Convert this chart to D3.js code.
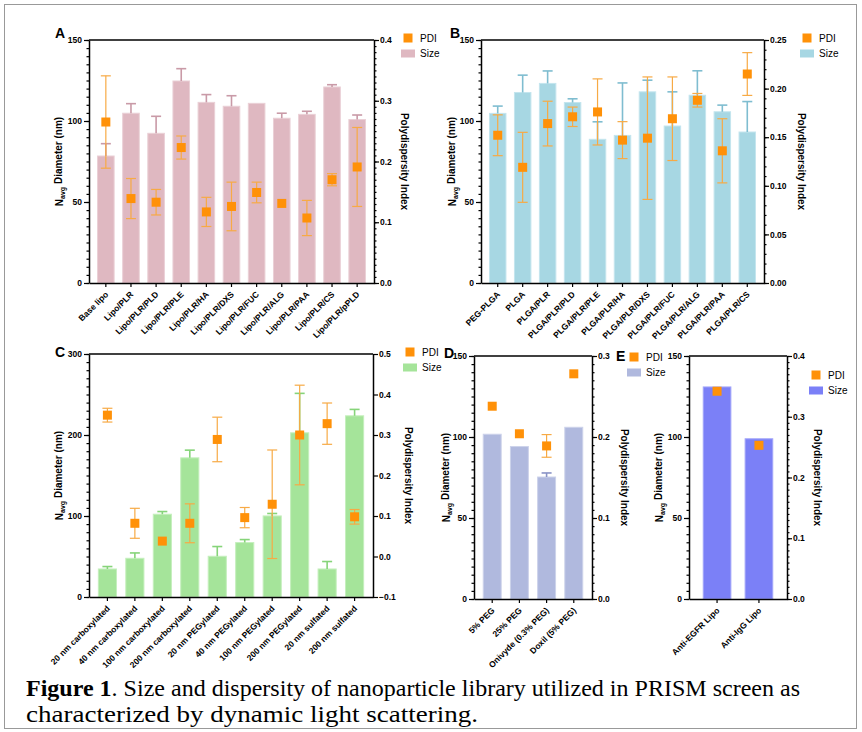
<!DOCTYPE html>
<meta charset="utf-8">
<head>
<script src="https://d3js.org/d3.v7.min.js"></script>
<style>
  body { margin: 0; background: #fff; }
  svg { display: block; font-family: "Liberation Sans", Arial, sans-serif; }
  .tick text { font-size: 8.5px; font-weight: bold; fill: #000; }
  .tick line { stroke: #000; stroke-width: 1.2; }
  .domain { stroke: #000; stroke-width: 1.5; }
  .ttl { font-size: 10px; font-weight: bold; }
  .xl { font-size: 9.5px; font-weight: bold; }
  .leg { font-size: 10px; }
  .letter { font-size: 14px; font-weight: bold; }
</style>
</head>
<body>
<svg width="862" height="732"></svg>
<script>

// ---- panel A : lipo
var catsA = ["Base lipo", "Lipo/PLR", "Lipo/PLR/PLD", "Lipo/PLR/PLE", "Lipo/PLR/HA", "Lipo/PLR/DXS",
             "Lipo/PLR/FUC", "Lipo/PLR/ALG", "Lipo/PLR/PAA", "Lipo/PLR/CS", "Lipo/PLR/pPLD"];
var sizeA    = [78.4, 104.8, 92.4, 124.7, 111.5, 109.1, 110.9, 101.7, 104.1, 121.0, 100.9];
var sizeErrA = [7.6, 5.9, 10.5, 7.6, 4.8, 6.5, 0, 3.1, 1.9, 1.4, 2.8];
var pdiA     = [0.265, 0.139, 0.133, 0.223, 0.117, 0.126, 0.149, 0.131, 0.107, 0.170, 0.191];
var pdiErrA  = [0.076, 0.033, 0.021, 0.019, 0.024, 0.040, 0.017, 0, 0.029, 0.010, 0.065];

// ---- panel B : PLGA
var catsB = ["PEG-PLGA", "PLGA", "PLGA/PLR", "PLGA/PLR/PLD", "PLGA/PLR/PLE", "PLGA/PLR/HA",
             "PLGA/PLR/DXS", "PLGA/PLR/FUC", "PLGA/PLR/ALG", "PLGA/PLR/PAA", "PLGA/PLR/CS"];
var sizeB    = [104.7, 117.6, 123.2, 111.4, 88.7, 91.1, 118.0, 96.9, 115.9, 105.7, 93.2];
var sizeErrB = [4.5, 10.7, 7.7, 2.3, 10.8, 32.4, 7.2, 21.1, 15.1, 4.1, 18.8];
var pdiB     = [0.152, 0.119, 0.164, 0.171, 0.176, 0.147, 0.149, 0.169, 0.188, 0.136, 0.215];
var pdiErrB  = [0.021, 0.036, 0.023, 0.010, 0.034, 0.019, 0.063, 0.043, 0.007, 0.033, 0.022];

// ---- panel C : polystyrene
var catsC = ["20 nm carboxylated", "40 nm carboxylated", "100 nm carboxylated", "200 nm carboxylated",
             "20 nm PEGylated", "40 nm PEGylated", "100 nm PEGylated", "200 nm PEGylated",
             "20 nm sulfated", "200 nm sulfated"];
var sizeC    = [34.6, 47.8, 102.2, 171.8, 50.3, 67.2, 100.1, 202.7, 34.6, 223.7];
var sizeErrC = [3.0, 6.6, 3.3, 9.5, 12.0, 3.7, 3.0, 48.7, 9.2, 7.9];
var pdiC     = [0.349, 0.082, 0.038, 0.082, 0.289, 0.096, 0.129, 0.300, 0.328, 0.098];
var pdiErrC  = [0.017, 0.037, 0, 0.048, 0.055, 0.025, 0.134, 0.123, 0.051, 0.018];

// ---- panel D : PEG liposomes
var catsD = ["5% PEG", "25% PEG", "Onivyde (0.3% PEG)", "Doxil (5% PEG)"];
var sizeD    = [101.7, 94.1, 75.3, 106.0];
var sizeErrD = [0, 0, 2.5, 0];
var pdiD     = [0.238, 0.204, 0.189, 0.278];
var pdiErrD  = [0, 0, 0.014, 0];

// ---- panel E : antibody liposomes
var catsE = ["Anti-EGFR Lipo", "Anti-IgG Lipo"];
var sizeE    = [130.9, 98.9];
var sizeErrE = [0, 0];
var pdiE     = [0.342, 0.253];
var pdiErrE  = [0, 0];

var orange = "#ff9108", orangeErr = "#f7aa45";

var svg = d3.select("svg");

svg.append("rect")
    .attr("x", 4.5).attr("y", 4.5).attr("width", 852).attr("height", 724)
    .attr("fill", "none").attr("stroke", "#999").attr("stroke-width", 1);

function panel(p) {
    var x = d3.scaleBand().domain(p.cats).range([p.x0, p.x1]).padding(0.34);
    var y = d3.scaleLinear().domain(p.sDom).range([p.y1, p.y0]);
    var y2 = d3.scaleLinear().domain(p.pDom).range([p.y1, p.y0]);
    var g = svg.append("g");
    var rows = p.cats.map(function(c, i) {
        return {c: c, s: p.size[i], se: p.sizeErr[i], p: p.pdi[i], pe: p.pdiErr[i]};
    });

    // bars
    g.selectAll(".bar").data(rows).enter().append("rect")
        .attr("x", function(d) { return x(d.c); })
        .attr("y", function(d) { return y(d.s); })
        .attr("width", x.bandwidth())
        .attr("height", function(d) { return p.y1 - y(d.s); })
        .attr("fill", p.fill).attr("stroke", p.edge).attr("stroke-width", 1);

    // size error (up only)
    var se = g.selectAll(".se").data(rows.filter(function(d) { return d.se > 0; })).enter().append("g")
        .attr("stroke", p.err).attr("stroke-width", 1.6);
    se.append("line")
        .attr("x1", function(d) { return x(d.c) + x.bandwidth() / 2; })
        .attr("x2", function(d) { return x(d.c) + x.bandwidth() / 2; })
        .attr("y1", function(d) { return y(d.s); })
        .attr("y2", function(d) { return y(d.s + d.se); });
    se.append("line")
        .attr("x1", function(d) { return x(d.c) + x.bandwidth() / 2 - 5; })
        .attr("x2", function(d) { return x(d.c) + x.bandwidth() / 2 + 5; })
        .attr("y1", function(d) { return y(d.s + d.se); })
        .attr("y2", function(d) { return y(d.s + d.se); });

    // pdi error
    var pe = g.selectAll(".pe").data(rows.filter(function(d) { return d.pe > 0; })).enter().append("g")
        .attr("stroke", orangeErr).attr("stroke-width", 1.2);
    pe.append("line")
        .attr("x1", function(d) { return x(d.c) + x.bandwidth() / 2; })
        .attr("x2", function(d) { return x(d.c) + x.bandwidth() / 2; })
        .attr("y1", function(d) { return y2(d.p - d.pe); })
        .attr("y2", function(d) { return y2(d.p + d.pe); });
    [-1, 1].forEach(function(sg) {
        pe.append("line")
            .attr("x1", function(d) { return x(d.c) + x.bandwidth() / 2 - 5; })
            .attr("x2", function(d) { return x(d.c) + x.bandwidth() / 2 + 5; })
            .attr("y1", function(d) { return y2(d.p + sg * d.pe); })
            .attr("y2", function(d) { return y2(d.p + sg * d.pe); });
    });

    // pdi squares
    g.selectAll(".pdi").data(rows).enter().append("rect")
        .attr("x", function(d) { return x(d.c) + x.bandwidth() / 2 - 4.5; })
        .attr("y", function(d) { return y2(d.p) - 4.5; })
        .attr("width", 9).attr("height", 9)
        .attr("fill", orange);

    // axes
    g.append("g").attr("transform", "translate(" + p.x0 + ",0)")
        .call(d3.axisLeft(y).tickValues(d3.range(p.sDom[0], p.sDom[1] + 0.001, p.sMinor))
            .tickSize(2.5).tickSizeOuter(0).tickFormat(""))
        .select(".domain").remove();
    g.append("g").attr("transform", "translate(" + p.x0 + ",0)")
        .call(d3.axisLeft(y).tickValues(p.sTicks).tickSize(5).tickSizeOuter(0).tickPadding(2));

    if (p.pMinor) {
        g.append("g").attr("transform", "translate(" + p.x1 + ",0)")
            .call(d3.axisRight(y2).tickValues(d3.range(0, Math.round((p.pDom[1] - p.pDom[0]) / p.pMinor) + 1)
                    .map(function(i) { return p.pDom[0] + i * p.pMinor; }))
                .tickSize(2.5).tickSizeOuter(0).tickFormat(""))
            .select(".domain").remove();
    }
    g.append("g").attr("transform", "translate(" + p.x1 + ",0)")
        .call(d3.axisRight(y2).tickValues(p.pTicks).tickSize(5).tickSizeOuter(0).tickPadding(1)
            .tickFormat(d3.format(p.pFmt)));

    var xa = g.append("g").attr("transform", "translate(0," + p.y1 + ")")
        .call(d3.axisBottom(x).tickSize(4).tickSizeOuter(0));
    xa.selectAll("text")
        .attr("class", "xl")
        .attr("x", 0).attr("y", 0).attr("dy", 0)
        .style("text-anchor", "end")
        .attr("transform", "translate(3,12) rotate(-45)");

    // top frame
    g.append("line").attr("x1", p.x0).attr("x2", p.x1).attr("y1", p.y0).attr("y2", p.y0)
        .attr("stroke", "#000").attr("stroke-width", 1.5);

    // titles
    var cy = (p.y0 + p.y1) / 2;
    var lt = g.append("text").attr("class", "ttl")
        .attr("transform", "translate(" + p.lx + "," + cy + ") rotate(-90)")
        .attr("text-anchor", "middle");
    lt.append("tspan").text("N");
    lt.append("tspan").attr("dy", "0.35em").attr("font-size", "7px").text("avg");
    lt.append("tspan").attr("dy", "-0.35em").text(" Diameter (nm)");

    g.append("text").attr("class", "ttl")
        .attr("transform", "translate(" + p.rx + "," + cy + ") rotate(90)")
        .attr("text-anchor", "middle")
        .text("Polydispersity Index");

    g.append("text").attr("class", "letter").attr("x", p.lab[0]).attr("y", p.lab[1]).text(p.letter);

    // legend
    g.append("rect").attr("x", p.leg[0] + 2.5).attr("y", p.leg[1] - 4.5).attr("width", 9).attr("height", 9)
        .attr("fill", orange);
    g.append("text").attr("class", "leg").attr("x", p.leg[0] + 19).attr("y", p.leg[1] + 3.5).text("PDI");
    g.append("rect").attr("x", p.leg[0]).attr("y", p.leg[1] + 11.5).attr("width", 14).attr("height", 8)
        .attr("fill", p.fill);
    g.append("text").attr("class", "leg").attr("x", p.leg[0] + 19).attr("y", p.leg[1] + 19).text("Size");
}

panel({cats: catsA, size: sizeA, sizeErr: sizeErrA, pdi: pdiA, pdiErr: pdiErrA,
       x0: 89, x1: 374, y0: 40, y1: 283,
       sDom: [0, 150], sTicks: [0, 50, 100, 150], sMinor: 5,
       pDom: [0, 0.4], pTicks: [0, 0.1, 0.2, 0.3, 0.4], pMinor: 0.01, pFmt: ".1f",
       fill: "#dfb8c1", edge: "#ead0d6", err: "#c99aa7",
       lx: 63, rx: 401, letter: "A", lab: [55, 38], leg: [401, 38]});

panel({cats: catsB, size: sizeB, sizeErr: sizeErrB, pdi: pdiB, pdiErr: pdiErrB,
       x0: 481, x1: 764, y0: 40, y1: 283,
       sDom: [0, 150], sTicks: [0, 50, 100, 150], sMinor: 5,
       pDom: [0, 0.25], pTicks: [0, 0.05, 0.1, 0.15, 0.2, 0.25], pMinor: 0.01, pFmt: ".2f",
       fill: "#a7d7e3", edge: "#c4e5ee", err: "#7fbdd0",
       lx: 456, rx: 798, letter: "B", lab: [450, 38], leg: [800, 38]});

panel({cats: catsC, size: sizeC, sizeErr: sizeErrC, pdi: pdiC, pdiErr: pdiErrC,
       x0: 89, x1: 373, y0: 354, y1: 597,
       sDom: [0, 300], sTicks: [0, 100, 200, 300], sMinor: 10,
       pDom: [-0.1, 0.5], pTicks: [-0.1, 0, 0.1, 0.2, 0.3, 0.4, 0.5], pMinor: 0, pFmt: ".1f",
       fill: "#a5e49a", edge: "#c5efbd", err: "#86d479",
       lx: 63, rx: 405, letter: "C", lab: [55, 357], leg: [403, 352]});

panel({cats: catsD, size: sizeD, sizeErr: sizeErrD, pdi: pdiD, pdiErr: pdiErrD,
       x0: 474, x1: 592, y0: 356, y1: 599,
       sDom: [0, 150], sTicks: [0, 50, 100, 150], sMinor: 5,
       pDom: [0, 0.3], pTicks: [0, 0.1, 0.2, 0.3], pMinor: 0.01, pFmt: ".1f",
       fill: "#b0b9de", edge: "#ccd2ea", err: "#8993c6",
       lx: 450, rx: 621, letter: "D", lab: [444, 358], leg: [627, 357]});

panel({cats: catsE, size: sizeE, sizeErr: sizeErrE, pdi: pdiE, pdiErr: pdiErrE,
       x0: 689, x1: 787, y0: 356, y1: 599,
       sDom: [0, 150], sTicks: [0, 50, 100, 150], sMinor: 5,
       pDom: [0, 0.4], pTicks: [0, 0.1, 0.2, 0.3, 0.4], pMinor: 0.01, pFmt: ".1f",
       fill: "#7b80f7", edge: "#a3a6f9", err: "#5a5fd0",
       lx: 663, rx: 814, letter: "E", lab: [616, 361], leg: [809, 375]});

// caption
var cap = svg.append("g").attr("font-family", "'Liberation Serif', 'Times New Roman', serif")
    .attr("font-size", "23px");
var l1 = cap.append("text").attr("x", 26).attr("y", 696)
    .attr("textLength", 774).attr("lengthAdjust", "spacingAndGlyphs");
l1.append("tspan").attr("font-weight", "bold").text("Figure 1");
l1.append("tspan").text(". Size and dispersity of nanoparticle library utilized in PRISM screen as");
cap.append("text").attr("x", 26).attr("y", 722)
    .attr("textLength", 452).attr("lengthAdjust", "spacingAndGlyphs")
    .text("characterized by dynamic light scattering.");

</script>
</body>
